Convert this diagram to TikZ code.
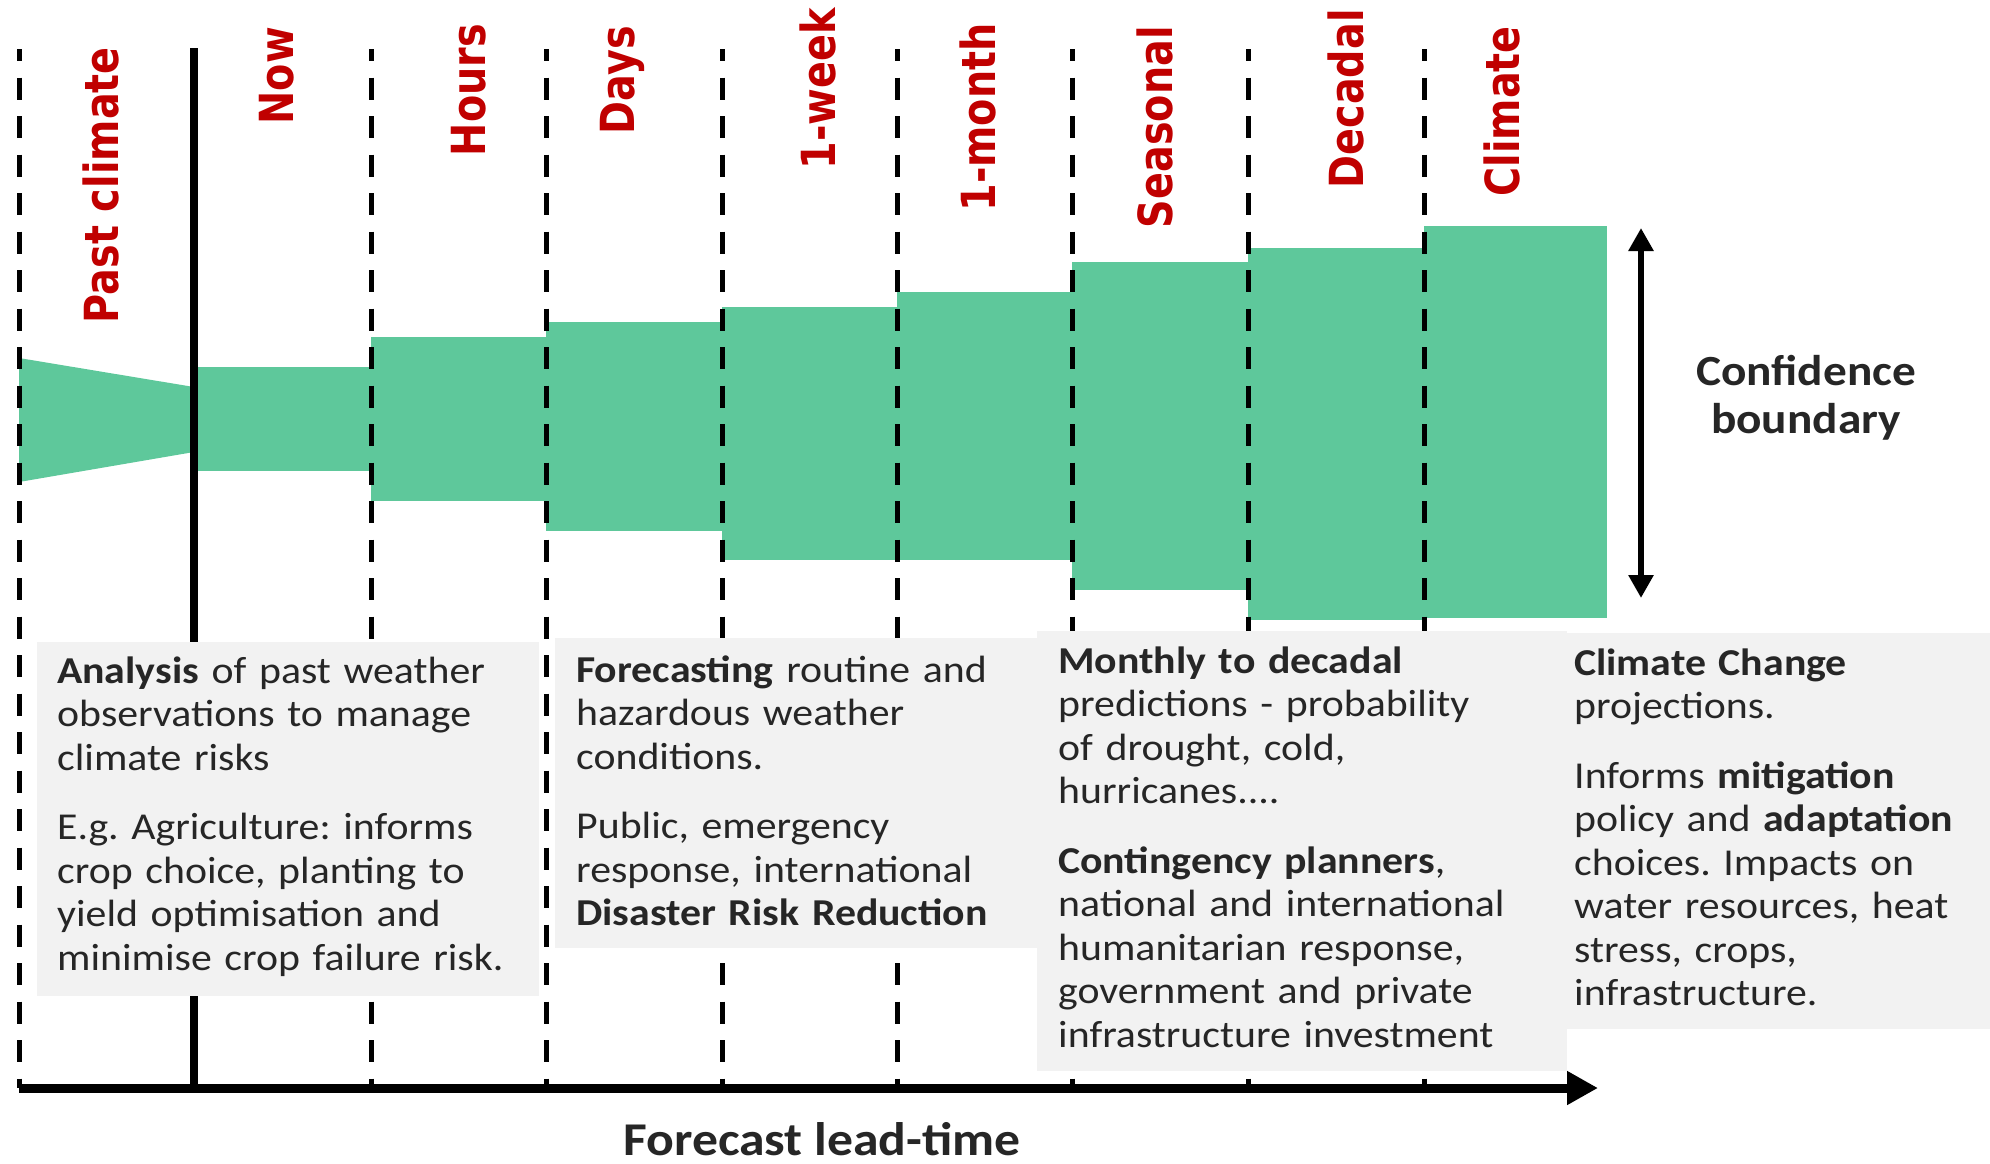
\documentclass[tikz,border=0pt]{standalone}
\usepackage{fontspec}
\setmainfont{Carlito}[FakeStretch=1.1]
\newfontfamily\periodfont{DejaVu Sans}[FakeStretch=0.845]
\usepackage{tikz}
\usetikzlibrary{arrows.meta, positioning}

\definecolor{bandgreen}{HTML}{5EC89B}
\definecolor{periodred}{HTML}{C00000}
\definecolor{boxgray}{HTML}{F2F2F2}
\definecolor{textgray}{HTML}{262626}
\frenchspacing

\begin{document}
\begin{tikzpicture}[
    x=1pt, y=-1pt,
    band/.style={fill=bandgreen},
    divider/.style={line width=5pt, dash pattern=on 22pt off 16.5pt, dash phase=10pt},
    nowline/.style={line width=8pt},
    infobox/.style={rectangle, fill=boxgray, inner sep=0pt, anchor=north west},
    infotext/.style={inner sep=0pt, anchor=base west, text width=520pt, align=left, text=textgray, font=\fontsize{38}{43.5}\selectfont},
    period/.style={rotate=90, inner sep=0pt, anchor=base east, text=periodred, font=\periodfont\bfseries\fontsize{47}{50}\selectfont},
    title/.style={inner sep=0pt, text=textgray, font=\bfseries\fontsize{47}{52}\selectfont}
  ]
    \useasboundingbox (0,0) rectangle (1990,1163);

    % confidence bands
    \fill[band] (19,358) -- (194,387) -- (194,452) -- (19,482) -- cycle;
    \foreach \xa/\xb/\ya/\yb in {194/371/367/471, 371/546/337/501, 546/722/322/531,
        722/897/307/560, 897/1072/292/560, 1072/1248/262/590, 1248/1424/248/620, 1424/1607/226/618}
      \fill[band] (\xa,\ya) rectangle (\xb,\yb);

    % time dividers
    \foreach \x in {19,371,546,722,897,1072,1248,1424}
      \draw[divider] (\x,49) -- (\x,1088);
    \draw[nowline] (194,48) -- (194,1088);

    % text boxes
    \node[infobox, minimum width=502pt, minimum height=354pt] (analysisbox) at (37,642) {};
    \node[infobox, minimum width=483pt, minimum height=310pt] (forecastbox) at (555,638) {};
    \node[infobox, minimum width=530pt, minimum height=440pt] (monthlybox) at (1037,631) {};
    \node[infobox, minimum width=423pt, minimum height=396pt] (climatebox) at (1567,633) {};

    \node[infotext] (analysistext) at (57,683) {\textbf{Analysis} of past weather\\ observations to manage\\ climate risks\\[26pt]
      E.g. Agriculture: informs\\ crop choice, planting to\\ yield optimisation and\\ minimise crop failure risk.};
    \node[infotext] (forecasttext) at (576,682) {\textbf{Forecasting} routine and\\ hazardous weather\\ conditions.\\[26pt]
      Public, emergency\\ response, international\\ \textbf{Disaster Risk Reduction}};
    \node[infotext] (monthlytext) at (1058,673) {\textbf{Monthly to decadal}\\ predictions - probability\\ of drought, cold,\\ hurricanes....\\[26pt]
      \textbf{Contingency planners},\\ national and international\\ humanitarian response,\\ government and private\\ infrastructure investment};
    \node[infotext] (climatetext) at (1574,675) {\textbf{Climate Change}\\ projections.\\[26pt]
      Informs \textbf{mitigation}\\ policy and \textbf{adaptation}\\ choices. Impacts on\\ water resources, heat\\ stress, crops,\\ infrastructure.};

    % lead-time labels
    \foreach \x/\y/\name/\txt in {118/47/past/Past climate, 293/27/now/Now, 485/24/hours/Hours,
        634/26/days/Days, 835/8/week/1-week, 995/23/month/1-month, 1172/26/seasonal/Seasonal,
        1363/9/decadal/Decadal, 1519/26/climate/Climate}
      \node[period] (\name) at (\x,\y) {\txt};

    % axis
    \coordinate (axisstart) at (19,1088);
    \coordinate (axisend) at (1598,1088);
    \draw[line width=9pt, -{Triangle[length=31pt,width=32pt]}] (axisstart) -- (axisend);
    \node[title, anchor=base] (axislabel) at (822,1155) {Forecast lead-time};

    % confidence boundary
    \coordinate (conftop) at (1641,228);
    \coordinate (confbot) at (1641,598);
    \draw[line width=6pt, {Triangle[length=23pt,width=24pt]}-{Triangle[length=23pt,width=24pt]}] (conftop) -- (confbot);
    \node[title, anchor=base, text width=300pt, align=center, font=\bfseries\fontsize{43}{48}\selectfont] (conflabel) at (1806,385) {Confidence\\ boundary};
  \end{tikzpicture}
\end{document}
